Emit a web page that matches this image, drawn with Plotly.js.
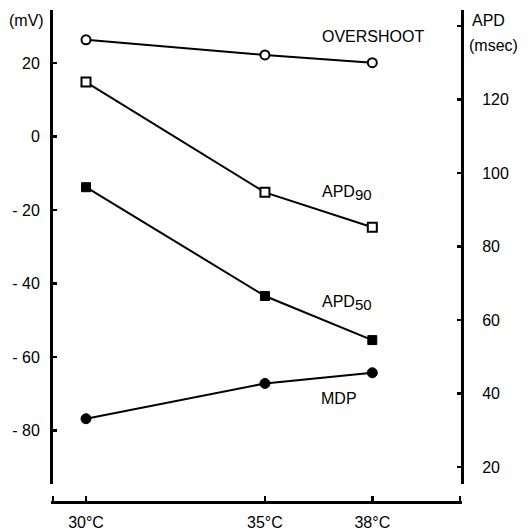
<!DOCTYPE html>
<html>
<head>
<meta charset="utf-8">
<script src="https://cdn.plot.ly/plotly-3.0.1.min.js"></script>
<style>html,body{margin:0;padding:0;background:#fff;}#chart{width:530px;height:532px;}</style>
</head>
<body>
<div id="chart"></div>
<script>
// Data
const temperatures = [30, 35, 38];
const tempLabels = ['30°C', '35°C', '38°C'];
const overshoot = [26.3, 22.2, 20.1];   // mV
const mdp = [-76.8, -67.2, -64.3];     // mV
const apd90 = [124.8, 94.8, 85.3];     // msec
const apd50 = [96.2, 66.6, 54.6];      // msec
const mvTicks = [-80, -60, -40, -20, 0, 20];
const mvTickText = ['- 80', '- 60', '- 40', '- 20', '0', '20'];
const apdTicks = [20, 40, 60, 80, 100, 120];
const apdTickText = ['20', '40', '60', '80', '100', '120'];

const FONT = 'Liberation Sans, Arial, sans-serif';
const black = '#000';

const traces = [
  {x: temperatures, y: overshoot, yaxis: 'y', mode: 'lines+markers', name: 'OVERSHOOT',
   line: {color: black, width: 2},
   marker: {symbol: 'circle', size: 9, color: '#fff', line: {color: black, width: 2}}},
  {x: temperatures, y: apd90, yaxis: 'y2', mode: 'lines+markers', name: 'APD90',
   line: {color: black, width: 2},
   marker: {symbol: 'square', size: 9, color: '#fff', line: {color: black, width: 2}}},
  {x: temperatures, y: apd50, yaxis: 'y2', mode: 'lines+markers', name: 'APD50',
   line: {color: black, width: 2},
   marker: {symbol: 'square', size: 9, color: black, line: {color: black, width: 1}}},
  {x: temperatures, y: mdp, yaxis: 'y', mode: 'lines+markers', name: 'MDP',
   line: {color: black, width: 2},
   marker: {symbol: 'circle', size: 10, color: black, line: {color: black, width: 1}}}
];

// paper coordinate helpers (plot area: x 51..462, y 10..502)
const px = v => (v - 51) / 411;
const py = v => (502 - v) / 492;

const ann = (text, x, y, xanchor, size) => ({
  text: text, xref: 'paper', yref: 'paper', x: px(x), y: py(y),
  xanchor: xanchor, yanchor: 'middle', showarrow: false,
  font: {family: FONT, size: size || 16, color: black}
});

const xr = [29.022, 40.506];
const yr = [-94.56, 34.42];
const y2r = [15.44, 144.42];
const layout = {
  width: 530, height: 532,
  margin: {l: 51, r: 68, t: 10, b: 30},
  paper_bgcolor: '#fff', plot_bgcolor: '#fff',
  showlegend: false,
  font: {family: FONT, color: black},
  xaxis: {
    range: xr, anchor: 'free', position: 0,
    showline: true, linewidth: 3, linecolor: black,
    showgrid: false, zeroline: false,
    tickmode: 'array', tickvals: temperatures, ticktext: tempLabels,
    ticks: 'inside', ticklen: 5, tickwidth: 2.5, tickcolor: black,
    minor: {tickmode: 'array', tickvals: [xr[0] + 0.06, xr[1] - 0.06],
            ticks: 'inside', ticklen: 5, tickwidth: 2.5, tickcolor: black, showgrid: false},
    ticklabelstandoff: 5,
    tickfont: {family: FONT, size: 16, color: black}
  },
  yaxis: {
    range: yr, domain: [18 / 492, 1],
    anchor: 'free', position: 0,
    showline: true, linewidth: 3, linecolor: black,
    showgrid: false, zeroline: false,
    tickmode: 'array', tickvals: mvTicks, ticktext: mvTickText,
    ticks: 'inside', ticklen: 4, tickwidth: 2.5, tickcolor: black,
    minor: {tickmode: 'array', tickvals: [yr[0] + 0.15],
            ticks: 'inside', ticklen: 4, tickwidth: 2.5, tickcolor: black, showgrid: false},
    ticklabelstandoff: 7,
    tickfont: {family: FONT, size: 16, color: black}
  },
  yaxis2: {
    range: y2r, overlaying: 'y', side: 'right',
    anchor: 'free', position: 1,
    showline: true, linewidth: 3, linecolor: black,
    showgrid: false, zeroline: false,
    tickmode: 'array', tickvals: apdTicks, ticktext: apdTickText,
    ticks: 'inside', ticklen: 4, tickwidth: 2.5, tickcolor: black,
    minor: {tickmode: 'array', tickvals: [140, y2r[0] + 0.15],
            ticks: 'inside', ticklen: 4, tickwidth: 2.5, tickcolor: black, showgrid: false},
    ticklabelstandoff: 15,
    tickfont: {family: FONT, size: 16, color: black}
  },
  annotations: [
    ann('(mV)', 26, 20, 'center', 16),
    ann('APD', 470, 21, 'left', 16),
    ann('(msec)', 467, 45, 'left', 16),
    ann('OVERSHOOT', 373, 36, 'center', 16),
    ann('APD<sub><span style="font-size:15px">90</span></sub>', 320, 193, 'left', 16),
    ann('APD<sub><span style="font-size:15px">50</span></sub>', 320, 303, 'left', 16),
    ann('MDP', 319, 398, 'left', 16)
  ]
};

Plotly.newPlot('chart', traces, layout, {staticPlot: true, displayModeBar: false});
</script>
</body>
</html>
